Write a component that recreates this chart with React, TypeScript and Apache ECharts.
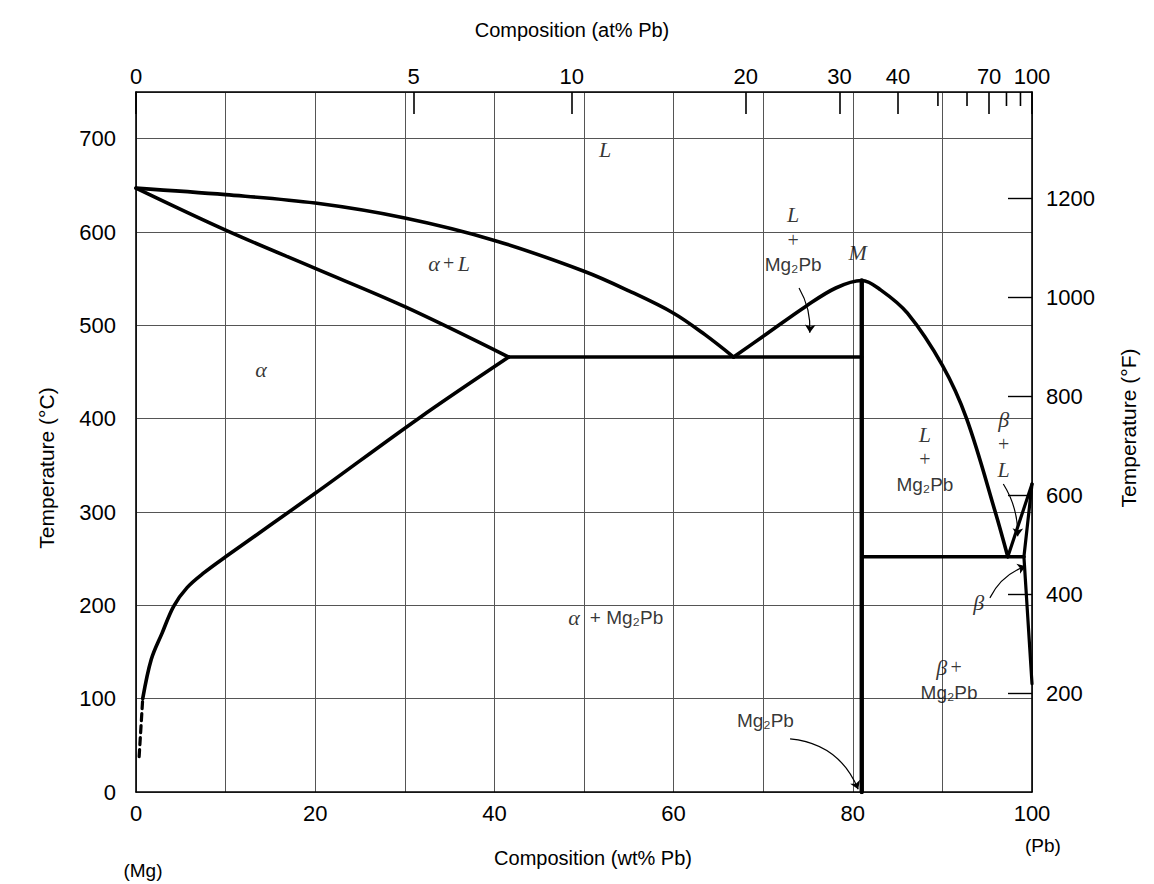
import React, { useEffect, useRef } from "react";
import * as echarts from "echarts";

// ---------- axis ticks ----------
const wtTickLabels = [0, 20, 40, 60, 80, 100];
const tempFTicks = [200, 400, 600, 800, 1000, 1200];
const atPctLabeled = [0, 5, 10, 20, 30, 40, 70, 100];
const atPctMinor = [50, 60, 80, 90];

// atomic masses (Mg, Pb) for at% -> wt% conversion of the top axis
const MG = 24.305;
const PB = 207.2;
const atToWt = (at: number) => (at * PB) / (at * PB + (100 - at) * MG) * 100;

// ---------- phase boundaries [wt% Pb, °C] ----------
const liquidusMgSide: [number, number][] = [
  [0, 647], [10, 640], [20, 631], [30, 615], [40, 591], [50, 558], [55, 537], [60, 513], [63.5, 490], [66.7, 466],
];
const solidusMgSide: [number, number][] = [
  [0, 647], [10, 602], [20, 561], [30, 520], [41.6, 466],
];
const solvusMgSide: [number, number][] = [
  [0.75, 100], [1.7, 142], [2.9, 170], [4.2, 199], [5.7, 219], [7.6, 235], [10, 252], [20, 320], [31.5, 400], [41.6, 466],
];
const solvusMgDashed: [number, number][] = [
  [0.35, 38], [0.75, 100],
];
const eutecticMgSide: [number, number][] = [
  [41.6, 466], [81, 466],
];
const liquidusCompound: [number, number][] = [
  [66.7, 466], [70.4, 491], [74.7, 520], [78.1, 540], [81, 548], [83.1, 538], [86.1, 513],
  [90, 457], [92.7, 400], [95.9, 300], [97.3, 252],
];
const compoundLine: [number, number][] = [
  [81, 548], [81, 0],
];
const eutecticPbSide: [number, number][] = [
  [81, 252], [99.1, 252],
];
const liquidusPbSide: [number, number][] = [
  [97.3, 252], [100, 330],
];
const solidusPbSide: [number, number][] = [
  [99.1, 252], [100, 330],
];
const solvusPbSide: [number, number][] = [
  [99.1, 252], [100, 116],
];

// ---------- phase labels (anchored in data coordinates) ----------
const phaseLabels: { at: [number, number]; text: string }[] = [
  { at: [52.4, 688], text: "{i|L}" },
  { at: [35.0, 566], text: "{i|α} {n|+} {i|L}" },
  { at: [14.0, 452], text: "{i|α}" },
  { at: [73.4, 591], text: "{i|L}\n{n|+}\n{s|Mg₂Pb}" },
  { at: [80.6, 578], text: "{i|M}" },
  { at: [53.6, 186], text: "{i|α}   {s|+ Mg₂Pb}" },
  { at: [88.1, 356], text: "{i|L}\n{n|+}\n{s|Mg₂Pb}" },
  { at: [96.9, 372], text: "{i|β}\n{n|+}\n{i|L}" },
  { at: [94.1, 203], text: "{i|β}" },
  { at: [90.8, 120], text: "{i|β} {n|+}\n{s|Mg₂Pb}" },
  { at: [70.3, 76], text: "{s|Mg₂Pb}" },
];

// ---------- pointer arrows ----------
const arrows: { from: [number, number]; to: [number, number]; curve: number }[] = [
  { from: [74.0, 540], to: [75.2, 492], curve: 0.15 },
  { from: [73.0, 57], to: [80.6, 3], curve: 0.3 },
  { from: [96.8, 330], to: [98.4, 274], curve: 0.15 },
  { from: [95.3, 208], to: [99.3, 242], curve: 0.2 },
];

const SANS = "'Liberation Sans', Arial, Helvetica, sans-serif";
const SERIF = "'Liberation Serif', 'Times New Roman', serif";

export default function App() {
  const ref = useRef<HTMLDivElement>(null);

  useEffect(() => {
    if (!ref.current) return;
    const chart = echarts.init(ref.current, undefined, { renderer: "svg" });

    const majorWt = atPctLabeled.map(atToWt);
    const minorWt = atPctMinor.map(atToWt);
    const atLabelFor = (v: number) => {
      for (let i = 0; i < majorWt.length; i++) {
        if (Math.abs(majorWt[i] - v) < 1e-6) return String(atPctLabeled[i]);
      }
      return "";
    };

    const boundary = (data: [number, number][], smooth: boolean, width = 3.6, type: any = "solid") => ({
      type: "line",
      xAxisIndex: 0,
      yAxisIndex: 0,
      data,
      symbol: "none",
      showSymbol: false,
      smooth: smooth ? 0.35 : false,
      silent: true,
      lineStyle: { color: "#000", width, type, cap: "round", join: "round" },
      z: 5,
    });

    const plain = { color: "#000", textBorderWidth: 0, textBorderColor: "transparent", textShadowBlur: 0, lineHeight: 25 };
    const rich = {
      i: { ...plain, fontFamily: SERIF, fontStyle: "italic", fontSize: 22 },
      n: { ...plain, fontFamily: SERIF, fontSize: 20 },
      s: { ...plain, fontFamily: SANS, fontSize: 19 },
    };

    const axisText = { color: "#000", fontSize: 22, fontFamily: SANS };

    const option: any = {
      animation: false,
      backgroundColor: "#fff",
      grid: { left: 136, top: 92, width: 896, height: 700, containLabel: false },
      xAxis: [
        {
          type: "value",
          position: "bottom",
          min: 0,
          max: 100,
          interval: 10,
          axisLine: { show: true, onZero: false, lineStyle: { color: "#000", width: 1.6 } },
          axisTick: { show: false },
          axisLabel: {
            ...axisText,
            margin: 10,
            formatter: (v: number) => (wtTickLabels.includes(v) ? String(v) : ""),
          },
          splitLine: { show: true, lineStyle: { color: "#555", width: 1 } },
        },
        {
          type: "value",
          position: "top",
          min: 0,
          max: 100,
          axisLine: { show: true, onZero: false, lineStyle: { color: "#000", width: 1.6 } },
          axisTick: { show: true, inside: true, length: 22, customValues: majorWt, lineStyle: { color: "#000", width: 1.6 } },
          axisLabel: { ...axisText, margin: 5, customValues: majorWt, formatter: (v: number) => atLabelFor(v) },
          splitLine: { show: false },
        },
      ],
      yAxis: [
        {
          type: "value",
          position: "left",
          min: 0,
          max: 750,
          interval: 100,
          axisLine: { show: true, onZero: false, lineStyle: { color: "#000", width: 1.6 } },
          axisTick: { show: false },
          axisLabel: { ...axisText, margin: 20, showMaxLabel: false },
          splitLine: { show: true, lineStyle: { color: "#555", width: 1 } },
        },
        {
          type: "value",
          position: "right",
          min: 0,
          max: 1415,
          axisLine: { show: true, onZero: false, lineStyle: { color: "#000", width: 1.6 } },
          axisTick: { show: true, inside: true, length: 24, customValues: tempFTicks, lineStyle: { color: "#000", width: 1.4 } },
          axisLabel: { ...axisText, margin: 14, customValues: tempFTicks, formatter: (v: number) => String(v) },
          splitLine: { show: false },
        },
      ],
      series: [
        boundary(liquidusMgSide, true),
        boundary(solidusMgSide, true),
        boundary(solvusMgSide, true),
        boundary(solvusMgDashed, false, 3.2, [7, 5]),
        boundary(eutecticMgSide, false),
        boundary(liquidusCompound, true),
        boundary(compoundLine, false, 4.4),
        boundary(eutecticPbSide, false),
        boundary(liquidusPbSide, false, 3.2),
        boundary(solidusPbSide, false, 3.2),
        boundary(solvusPbSide, false, 3.2),
        {
          type: "lines",
          coordinateSystem: "cartesian2d",
          xAxisIndex: 0,
          yAxisIndex: 0,
          symbol: ["none", "arrow"],
          symbolSize: 8,
          silent: true,
          lineStyle: { color: "#000", width: 1.2, opacity: 1 },
          data: arrows.map((a) => ({ coords: [a.from, a.to], lineStyle: { curveness: a.curve } })),
          z: 6,
        },
        {
          type: "scatter",
          xAxisIndex: 0,
          yAxisIndex: 0,
          symbolSize: 1,
          itemStyle: { color: "rgba(0,0,0,0)" },
          silent: true,
          z: 7,
          data: phaseLabels.map((p) => ({
            value: p.at,
            label: {
              show: true,
              position: [0, 0],
              align: "center",
              verticalAlign: "middle",
              color: "#000",
              textBorderWidth: 0,
              textBorderColor: "transparent",
              formatter: p.text,
              rich,
            },
          })),
        },
      ],
    };

    chart.setOption(option);

    // short (unlabelled) at% ticks on the top axis, placed through the axis scale
    const topY = chart.convertToPixel({ yAxisIndex: 0 }, 750) as number;
    const minorTicks = minorWt.map((w) => {
      const x = chart.convertToPixel({ xAxisIndex: 1 }, w) as number;
      return {
        type: "line",
        shape: { x1: x, y1: topY, x2: x, y2: topY + 14 },
        style: { stroke: "#000", lineWidth: 1.6 },
        silent: true,
      };
    });

    const title = (text: string, x: number, y: number, size: number, rot = 0) => ({
      type: "text",
      x,
      y,
      rotation: rot,
      silent: true,
      style: { text, font: `${size}px ${SANS}`, fill: "#000", align: "center", verticalAlign: "middle" },
    });

    chart.setOption({
      graphic: [
        title("Composition (at% Pb)", 572, 30, 20),
        title("Composition (wt% Pb)", 593, 858, 20),
        title("Temperature (°C)", 46, 468, 21, Math.PI / 2),
        title("Temperature (°F)", 1128, 428, 21, Math.PI / 2),
        title("(Mg)", 143, 870, 19),
        title("(Pb)", 1043, 845, 19),
        ...minorTicks,
      ],
    });

    return () => chart.dispose();
  }, []);

  return (
    <div
      ref={ref}
      style={{ position: "fixed", left: 0, top: 0, width: 1154, height: 884, background: "#fff" }}
    />
  );
}
